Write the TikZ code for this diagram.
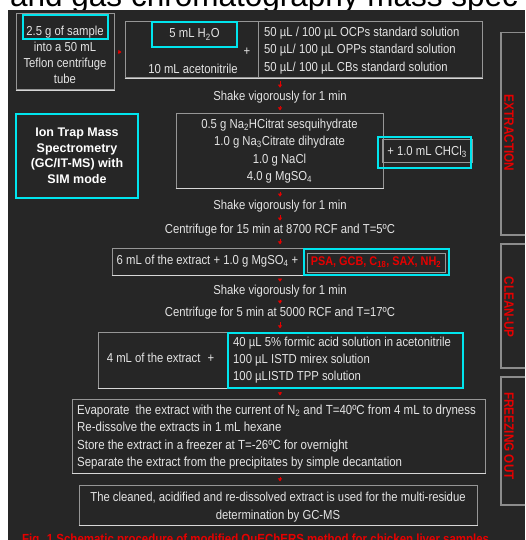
\documentclass[tikz,border=0pt]{standalone}
\usepackage{fontspec}
\setmainfont[FakeStretch=0.87]{Liberation Sans}
\newfontfamily\plainsans{Liberation Sans}
\usetikzlibrary{arrows.meta}
\definecolor{bgc}{RGB}{38,38,38}
\definecolor{boxgray}{RGB}{150,150,150}
\definecolor{hlc}{RGB}{215,215,215}
\definecolor{panelgray}{RGB}{140,140,140}
\definecolor{cyanc}{RGB}{0,229,238}
\definecolor{redc}{RGB}{230,0,0}
\definecolor{txtc}{RGB}{228,228,228}
\newcommand{\fsz}[2]{\fontsize{#1}{#2}\selectfont}
\tikzset{
  gbox/.style={draw=boxgray, line width=1pt, inner sep=0pt, rectangle},
  cbox/.style={draw=cyanc, line width=2.3pt, inner sep=0pt, rectangle},
  txt/.style={text=txtc, inner sep=0pt, font=\fsz{13}{17}},
  hl/.style={draw=hlc, line width=1.3pt},
  redarr/.style={draw=redc, line width=0.9pt, -{Triangle[length=3.2pt,width=4.2pt]}, shorten <=3pt, shorten >=3pt},
  panel/.style={draw=panelgray, line width=1.5pt, anchor=north west, minimum width=40pt, inner sep=0pt},
  plabel/.style={rotate=-90, text=redc, inner sep=0pt, font=\bfseries\fsz{13.5}{15}},
}
\newcommand{\hlbottom}[1]{\draw[hl] (#1.south west) -- (#1.south east);}
\begin{document}
\begin{tikzpicture}[x=1pt,y=-1pt]
\useasboundingbox (0,0) rectangle (525,540);
\clip (0,0) rectangle (525,540);
\fill[white] (0,0) rectangle (525,540);
\node[anchor=base west, inner sep=0pt, text=black, font=\plainsans\fsz{31.5}{33}] (title) at (10,7) {and gas chromatography mass spec};
\fill[bgc] (8,10) rectangle (525,540);

% top row
\node[gbox, minimum width=98, minimum height=76] (sample) at (65,52) {};
\hlbottom{sample}
\node[txt, align=center, font=\fsz{13}{16}] (sampletxt) at (65,55) {2.5 g of sample\\into a 50 mL\\Teflon centrifuge\\tube};
\node[cbox, minimum width=85, minimum height=24] (samplehl) at (65.5,27) {};

\node[gbox, minimum width=133, minimum height=56] (midL) at (191.5,50) {};
\node[gbox, minimum width=224, minimum height=56] (midR) at (370,50) {};
\hlbottom{midL}
\hlbottom{midR}
\node[cbox, txt, minimum width=85, minimum height=25] (h2o) at (194.5,34.5) {5 mL H\textsubscript{2}O};
\node[txt] (acn) at (193,69) {10 mL acetonitrile};
\node[txt] (plus1) at (247,52) {+};
\node[txt, align=left, anchor=west, font=\fsz{13}{17.5}] (stds) at (264,50.5) {50 µL / 100 µL OCPs standard solution\\50 µL/ 100 µL OPPs standard solution\\50 µL/ 100 µL CBs standard solution};
\draw[redarr] (sample.east) -- (sample.east -| midL.west);

\node[txt] (s1) at (280,97) {Shake vigorously for 1 min};

% salts
\node[gbox, txt, align=center, minimum width=207, minimum height=74, font=\fsz{13}{17.3}] (salts) at (279.5,151) {0.5 g Na\textsubscript{2}HCitrat sesquihydrate\\1.0 g Na\textsubscript{3}Citrate dihydrate\\1.0 g NaCl\\4.0 g MgSO\textsubscript{4}};
\hlbottom{salts}
\node[gbox, txt, minimum width=90, minimum height=23] (chcl) at (427,151.5) {+ 1.0 mL CHCl\textsubscript{3}};
\node[cbox, minimum width=93, minimum height=31] (chclhl) at (424.5,152.5) {};

\node[cbox, minimum width=122, minimum height=84, text=white, align=center, font=\plainsans\bfseries\fsz{12.5}{15.5}] (ion) at (77,156) {Ion Trap Mass\\Spectrometry\\(GC/IT-MS) with\\SIM mode};

\node[txt] (s2) at (280,206) {Shake vigorously for 1 min};
\node[txt] (c1) at (280,230) {Centrifuge for 15 min at 8700 RCF and T=5ºC};

% clean-up
\node[gbox, txt, minimum width=191, minimum height=27] (ext6) at (207.5,261.5) {6 mL of the extract + 1.0 g MgSO\textsubscript{4} +};
\hlbottom{ext6}
\node[cbox, minimum width=145, minimum height=26] (psahl) at (376.5,262) {};
\node[gbox, minimum width=138, minimum height=19, text=redc, font=\bfseries\fsz{12.5}{14}] (psa) at (376,262.5) {PSA, GCB, C\textsubscript{18}, SAX, NH\textsubscript{2}};

\node[txt] (s3) at (280,291) {Shake vigorously for 1 min};
\node[txt] (c2) at (280,313) {Centrifuge for 5 min at 5000 RCF and T=17ºC};

\node[gbox, minimum width=364, minimum height=56] (box4) at (280,360) {};
\hlbottom{box4}
\node[txt] (ext4) at (160.5,358) {4 mL of the extract\hspace{7pt}+};
\node[cbox, minimum width=235, minimum height=55] (add4) at (345.5,360.5) {};
\node[txt, align=left, anchor=west, font=\fsz{13}{17}] (add4txt) at (233,360) {40 µL 5\% formic acid solution in acetonitrile\\100 µL ISTD mirex solution\\100 µLISTD TPP solution};

% freezing out
\node[gbox, minimum width=413, minimum height=74] (box5) at (278.5,436) {};
\hlbottom{box5}
\node[txt, align=left, anchor=west, font=\fsz{13.2}{17.3}] (box5txt) at (77,437) {Evaporate\hspace{3pt} the extract with the current of N\textsubscript{2} and T=40ºC from 4 mL to dryness\\Re-dissolve the extracts in 1 mL hexane\\Store the extract in a freezer at T=-26ºC for overnight\\Separate the extract from the precipitates by simple decantation};

\node[gbox, minimum width=398, minimum height=40] (box6) at (278,505) {};
\hlbottom{box6}
\node[txt, align=center, font=\fsz{13}{18}] (box6txt) at (278,507) {The cleaned, acidified and re-dissolved extract is used for the multi-residue\\determination by GC-MS};

\node[anchor=base west, inner sep=0pt, text=redc, font=\bfseries\fsz{13.2}{14}] (cap) at (22,543) {Fig. 1 Schematic procedure of modified QuEChERS method for chicken liver samples};

% side panels
\node[panel, minimum height=202] (p1) at (500,32) {};
\node[plabel] (l1) at (509,133) {EXTRACTION};
\node[panel, minimum height=124] (p2) at (500,243) {};
\node[plabel] (l2) at (509,307) {CLEAN-UP};
\node[panel, minimum height=128] (p3) at (500,376) {};
\node[plabel] (l3) at (509,436) {FREEZING OUT};

% arrows
\draw[redarr] (midL.south -| s1) -- (s1.north);
\draw[redarr] (s1.south) -- (s1.south |- salts.north);
\draw[redarr] (salts.south -| s2) -- (s2.north);
\draw[redarr] (s2.south) -- (c1.north);
\draw[redarr] (c1.south) -- (c1.south |- ext6.north);
\draw[redarr] (ext6.south -| s3) -- (s3.north);
\draw[redarr] (s3.south) -- (c2.north);
\draw[redarr] (c2.south) -- (c2.south |- box4.north);
\draw[redarr] (box4.south -| s3) -- (box5.north -| s3);
\draw[redarr] (box5.south -| s3) -- (box6.north -| s3);
\end{tikzpicture}
\end{document}
